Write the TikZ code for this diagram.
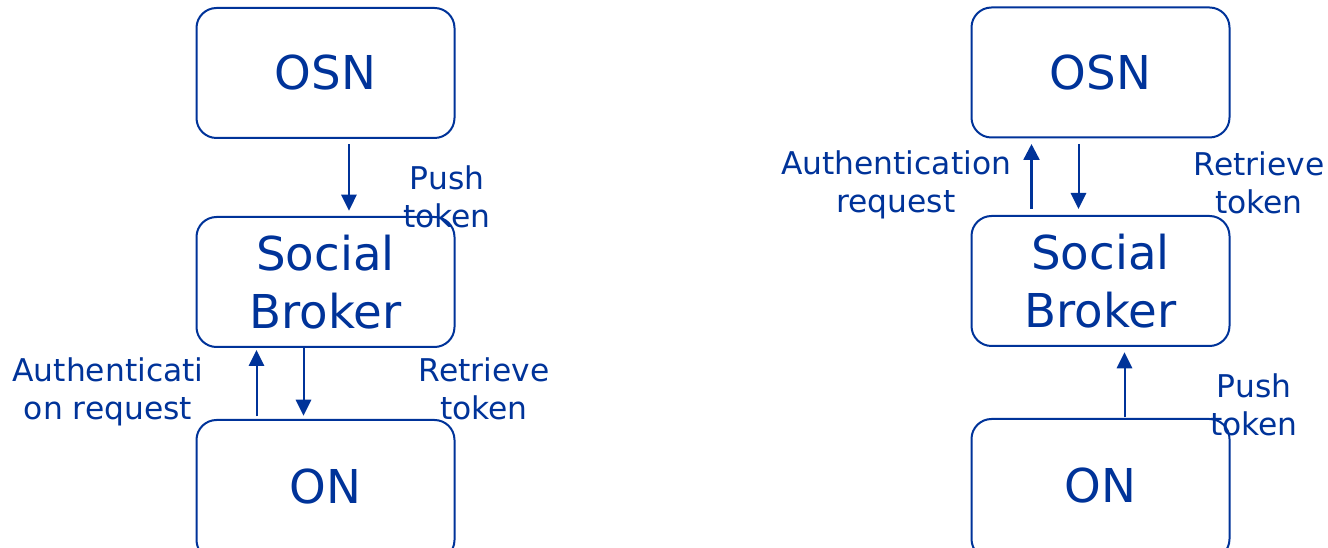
\documentclass[tikz,border=0pt]{standalone}
\usepackage{fontspec}
\setmainfont{DejaVu Sans}
\usepackage{tikz}
\usetikzlibrary{arrows.meta,positioning}
\definecolor{brokerBlue}{RGB}{0,51,153}

\tikzset{
  entity/.style={draw=brokerBlue, line width=1.5pt, rounded corners=15pt,
    minimum width=193.5pt, minimum height=97.5pt, align=center,
    text=brokerBlue, font=\fontsize{35}{43}\selectfont},
  msg/.style={align=center, text=brokerBlue, inner sep=0pt,
    font=\fontsize{23.5}{28.5}\selectfont},
  flow/.style={draw=brokerBlue, line width=1.5pt,
    -{Triangle[length=12pt,width=11.5pt]}},
}

\begin{document}
\begin{tikzpicture}[x=0.75pt,y=-0.75pt]
  \clip (0,0) rectangle (1328,548);

  % push flow: OSN hands the token down to the broker
  \node[entity] (osnL) at (325.5,73) {OSN};
  \node[entity] (sbL) at (325.5,282) {Social\\Broker};
  \node[entity, minimum height=105pt, text depth=6pt] (onL) at (325.5,490) {ON};

  \draw[flow, shorten <=4pt, shorten >=4pt] ([xshift=17.6pt]osnL.south) -- ([xshift=17.6pt]sbL.north);
  \draw[flow, shorten <=2pt, shorten >=1.5pt] ([xshift=-51.75pt]onL.north) -- ([xshift=-51.75pt]sbL.south);
  \draw[flow, shorten >=2.5pt] ([xshift=-16.5pt]sbL.south) -- ([xshift=-16.5pt]onL.north);

  \node[msg] (pushL) at (447,197) {Push\\token};
  \node[msg] (authL) at (108,391.5) {Authenticati\\on request};
  \node[msg] (retrL) at (484,388.5) {Retrieve\\token};

  % pull flow: ON pushes the token up through the broker
  \node[entity] (osnR) at (1100.5,72.5) {OSN};
  \node[entity] (sbR) at (1100.5,281) {Social\\Broker};
  \node[entity, minimum height=105pt, text depth=6pt] (onR) at (1100.5,489) {ON};

  \draw[flow, line width=2.8pt, shorten <=4.5pt, shorten >=4pt] ([xshift=-51.75pt]sbR.north) -- ([xshift=-51.75pt]osnR.south);
  \draw[flow, shorten <=4pt, shorten >=4.5pt] ([xshift=-16.5pt]osnR.south) -- ([xshift=-16.5pt]sbR.north);
  \draw[flow, shorten <=0.5pt, shorten >=4pt] ([xshift=18pt]onR.north) -- ([xshift=18pt]sbR.south);

  \node[msg] (authR) at (896,185) {Authentication\\request};
  \node[msg] (retrR) at (1259,183) {Retrieve\\token};
  \node[msg] (pushR) at (1254,405) {Push\\token};
\end{tikzpicture}
\end{document}
